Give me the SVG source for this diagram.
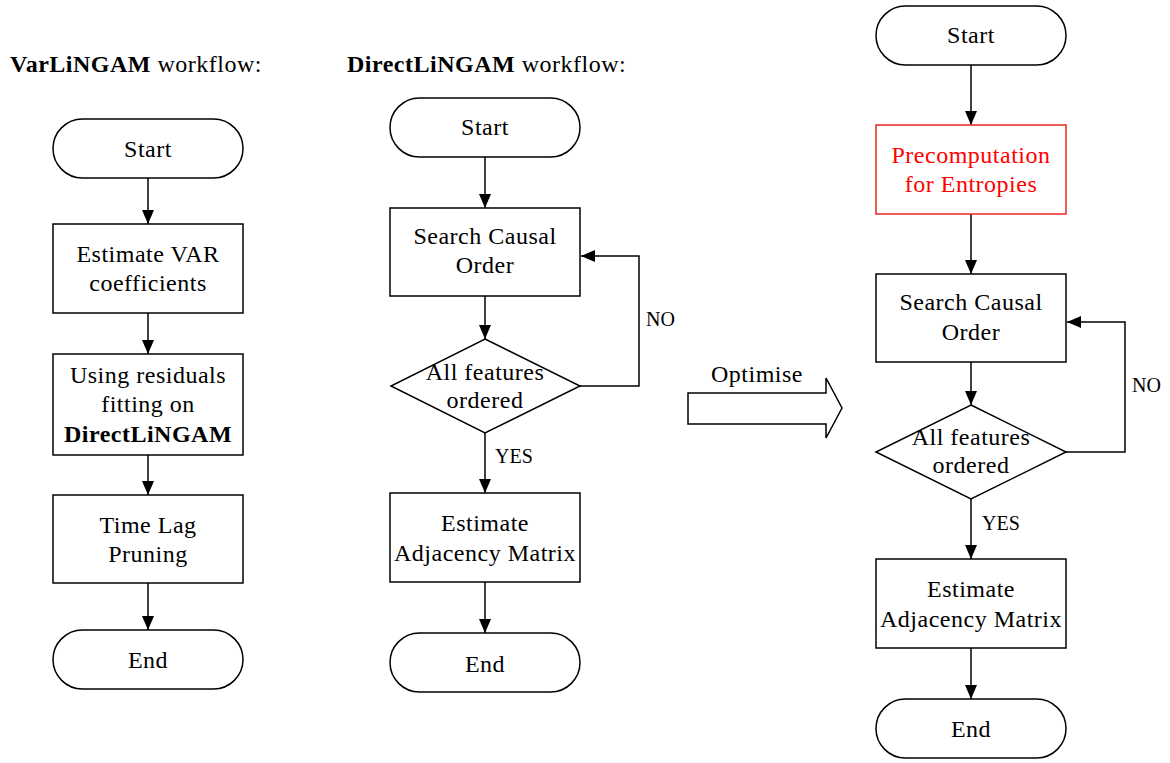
<svg xmlns="http://www.w3.org/2000/svg" width="1170" height="763" viewBox="0 0 1170 763">
<defs>
<marker id="ah" markerWidth="14" markerHeight="12" refX="14" refY="6" orient="auto" markerUnits="userSpaceOnUse">
<path d="M0,0 L14,6 L0,12 Z" fill="#000"/>
</marker>
<style>
.s{fill:#fff;stroke:#000;stroke-width:1.5}
.r{fill:#fff;stroke:#e8281e;stroke-width:1.5}
.t{font-family:"Liberation Serif","Times New Roman",serif;font-size:24px;fill:#000;text-anchor:middle;letter-spacing:0.5px}
.l{font-family:"Liberation Serif","Times New Roman",serif;font-size:20px;fill:#000}
.h{font-family:"Liberation Serif","Times New Roman",serif;font-size:24px;fill:#000;letter-spacing:0.5px}
.c{fill:none;stroke:#000;stroke-width:1.5}
.red{fill:#ff0000}
</style>
</defs>
<rect width="1170" height="763" fill="#fff"/>
<text class="h" x="10" y="72"><tspan font-weight="bold">VarLiNGAM</tspan> workflow:</text>
<text class="h" x="347" y="72"><tspan font-weight="bold">DirectLiNGAM</tspan> workflow:</text>

<g id="connectors">
<line class="c" x1="148" y1="178" x2="148" y2="224" marker-end="url(#ah)"/>
<line class="c" x1="148" y1="313" x2="148" y2="354" marker-end="url(#ah)"/>
<line class="c" x1="148" y1="455" x2="148" y2="495" marker-end="url(#ah)"/>
<line class="c" x1="148" y1="583" x2="148" y2="630" marker-end="url(#ah)"/>

<line class="c" x1="485" y1="157" x2="485" y2="208" marker-end="url(#ah)"/>
<line class="c" x1="485" y1="296" x2="485" y2="339" marker-end="url(#ah)"/>
<polyline class="c" points="580,386 639,386 639,256 581,256" marker-end="url(#ah)"/>
<line class="c" x1="485" y1="433" x2="485" y2="493" marker-end="url(#ah)"/>
<line class="c" x1="485" y1="582" x2="485" y2="633" marker-end="url(#ah)"/>

<line class="c" x1="971" y1="65" x2="971" y2="125" marker-end="url(#ah)"/>
<line class="c" x1="971" y1="214" x2="971" y2="274" marker-end="url(#ah)"/>
<line class="c" x1="971" y1="362" x2="971" y2="405" marker-end="url(#ah)"/>
<polyline class="c" points="1066,452 1125,452 1125,322 1067,322" marker-end="url(#ah)"/>
<line class="c" x1="971" y1="499" x2="971" y2="559" marker-end="url(#ah)"/>
<line class="c" x1="971" y1="648" x2="971" y2="699" marker-end="url(#ah)"/>

<text class="l" x="646" y="326">NO</text>
<text class="l" x="495" y="463">YES</text>
<text class="l" x="1132" y="392">NO</text>
<text class="l" x="982" y="530">YES</text>
</g>

<g id="optimise">
<polygon class="s" points="688,393 826,393 826,378 842,408 826,438 826,424 688,424"/>
<text class="h" x="711" y="382">Optimise</text>
</g>

<g id="v-start"><rect class="s" x="53" y="119" width="190" height="59" rx="29.5"/><text class="t" x="148" y="157">Start</text></g>
<g id="v-var"><rect class="s" x="53" y="224" width="190" height="89"/><text class="t" x="148" y="262">Estimate VAR</text><text class="t" x="148" y="291">coefficients</text></g>
<g id="v-resid"><rect class="s" x="53" y="354" width="190" height="101"/><text class="t" x="148" y="383">Using residuals</text><text class="t" x="148" y="412">fitting on</text><text class="t" x="148" y="442" font-weight="bold">DirectLiNGAM</text></g>
<g id="v-prune"><rect class="s" x="53" y="495" width="190" height="88"/><text class="t" x="148" y="533">Time Lag</text><text class="t" x="148" y="562">Pruning</text></g>
<g id="v-end"><rect class="s" x="53" y="630" width="190" height="59" rx="29.5"/><text class="t" x="148" y="668">End</text></g>

<g id="d-start"><rect class="s" x="390" y="98" width="190" height="59" rx="29.5"/><text class="t" x="485" y="135">Start</text></g>
<g id="d-search"><rect class="s" x="390" y="208" width="190" height="88"/><text class="t" x="485" y="244">Search Causal</text><text class="t" x="485" y="273">Order</text></g>
<g id="d-decide"><polygon class="s" points="485,339 580,386 485,433 391,386"/><text class="t" x="485" y="380">All features</text><text class="t" x="485" y="408">ordered</text></g>
<g id="d-adj"><rect class="s" x="390" y="493" width="190" height="89"/><text class="t" x="485" y="531">Estimate</text><text class="t" x="485" y="561">Adjacency Matrix</text></g>
<g id="d-end"><rect class="s" x="390" y="633" width="190" height="59" rx="29.5"/><text class="t" x="485" y="672">End</text></g>

<g id="o-start"><rect class="s" x="876" y="6" width="190" height="59" rx="29.5"/><text class="t" x="971" y="43">Start</text></g>
<g id="o-pre"><rect class="r" x="876" y="125" width="190" height="89"/><text class="t red" x="971" y="163">Precomputation</text><text class="t red" x="971" y="192">for Entropies</text></g>
<g id="o-search"><rect class="s" x="876" y="274" width="190" height="88"/><text class="t" x="971" y="310">Search Causal</text><text class="t" x="971" y="340">Order</text></g>
<g id="o-decide"><polygon class="s" points="971,405 1066,452 971,499 876,452"/><text class="t" x="971" y="445">All features</text><text class="t" x="971" y="473">ordered</text></g>
<g id="o-adj"><rect class="s" x="876" y="559" width="190" height="89"/><text class="t" x="971" y="597">Estimate</text><text class="t" x="971" y="627">Adjacency Matrix</text></g>
<g id="o-end"><rect class="s" x="876" y="699" width="190" height="59" rx="29.5"/><text class="t" x="971" y="737">End</text></g>
</svg>
